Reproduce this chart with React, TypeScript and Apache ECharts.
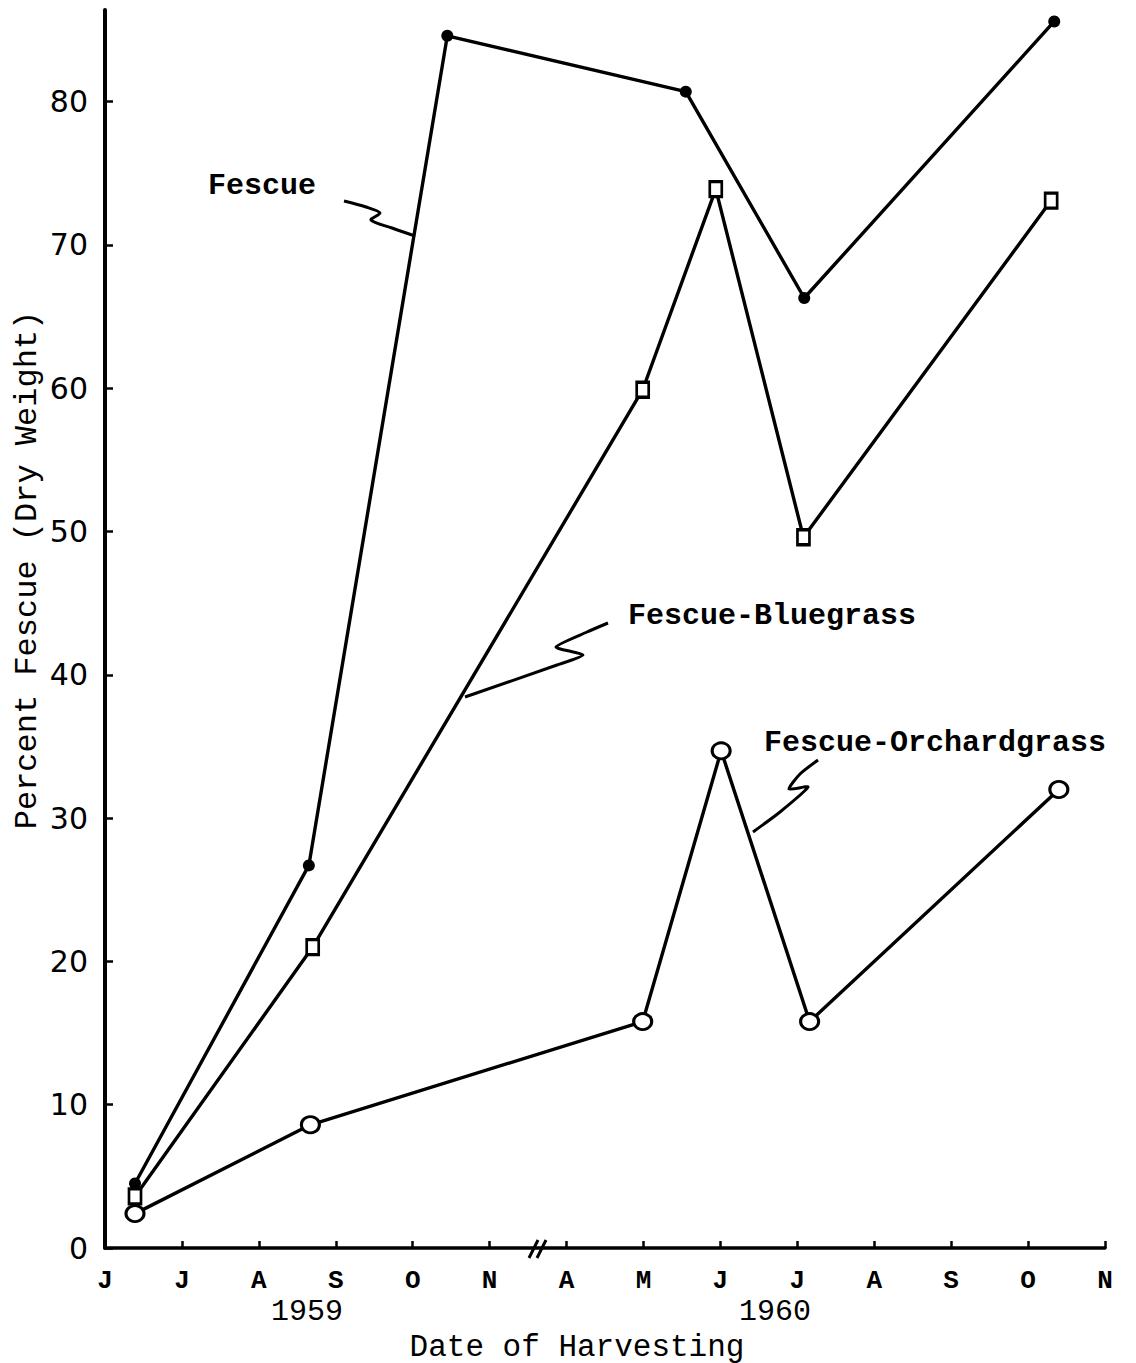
import React, { useEffect, useRef } from "react";
import * as echarts from "echarts";

const monthLabels = ["J", "J", "A", "S", "O", "N", "A", "M", "J", "J", "A", "S", "O", "N"];
const yTicks = [0, 10, 20, 30, 40, 50, 60, 70, 80];
const xTicks = [0, 1, 2, 3, 4, 5, 6, 7, 8, 9, 10, 11, 12, 13];

// x in month units from the June 1959 origin (with break between N and A)
const fescue: [number, number][] = [
  [0.39, 4.5], [2.65, 26.7], [4.45, 84.6], [7.55, 80.7], [9.09, 66.3], [12.34, 85.6],
];
const fescueBluegrass: [number, number][] = [
  [0.39, 3.6], [2.7, 21.0], [6.99, 59.9], [7.94, 73.9], [9.08, 49.6], [12.3, 73.1],
];
const fescueOrchardgrass: [number, number][] = [
  [0.39, 2.4], [2.67, 8.6], [6.99, 15.8], [8.01, 34.7], [9.16, 15.8], [12.4, 32.0],
];

const MONO = "'Liberation Mono', 'DejaVu Sans Mono', monospace";

export default function App() {
  const ref = useRef<HTMLDivElement>(null);
  useEffect(() => {
    if (!ref.current) return;
    const chart = echarts.init(ref.current, undefined, { renderer: "svg" });
    const lineStyle = { color: "#000", width: 3.4 };
    chart.setOption({
      animation: false,
      backgroundColor: "#fff",
      grid: { left: 105, right: 31, top: 10, bottom: 115 },
      xAxis: {
        type: "value",
        min: 0,
        max: 13,
        interval: 1,
        splitLine: { show: false },
        axisLine: { lineStyle: { color: "#000", width: 3.5 } },
        axisTick: { inside: true, length: 7, lineStyle: { color: "#000", width: 2.5 }, customValues: xTicks },
        axisLabel: {
          customValues: xTicks,
          margin: 20,
          color: "#000",
          fontFamily: MONO,
          fontWeight: "bold",
          fontSize: 26,
          formatter: (v: number) => monthLabels[Math.round(v)] ?? "",
        },
      },
      yAxis: {
        type: "value",
        min: 0,
        max: 86.4,
        interval: 10,
        splitLine: { show: false },
        axisLine: { lineStyle: { color: "#000", width: 4 } },
        axisTick: { inside: true, length: 8, lineStyle: { color: "#000", width: 2.5 }, customValues: yTicks },
        axisLabel: {
          customValues: yTicks,
          margin: 17,
          color: "#000",
          fontFamily: "'DejaVu Sans', sans-serif",
          fontSize: 30,
        },
      },
      series: [
        {
          name: "Fescue",
          type: "line",
          data: fescue,
          symbol: "circle",
          symbolSize: 12,
          lineStyle,
          itemStyle: { color: "#000" },
          z: 3,
        },
        {
          name: "Fescue-Bluegrass",
          type: "line",
          data: fescueBluegrass,
          symbol: "rect",
          symbolSize: [12, 15],
          lineStyle,
          itemStyle: { color: "#fff", borderColor: "#000", borderWidth: 3 },
          z: 4,
        },
        {
          name: "Fescue-Orchardgrass",
          type: "line",
          data: fescueOrchardgrass,
          symbol: "circle",
          symbolSize: [18, 16],
          lineStyle,
          itemStyle: { color: "#fff", borderColor: "#000", borderWidth: 3 },
          z: 5,
        },
      ],
      graphic: [
        // axis break
        { type: "line", shape: { x1: 529, y1: 1258, x2: 538, y2: 1240 }, style: { stroke: "#000", lineWidth: 3 }, z: 10 },
        { type: "line", shape: { x1: 537, y1: 1258, x2: 546, y2: 1240 }, style: { stroke: "#000", lineWidth: 3 }, z: 10 },
        // year labels
        { type: "text", x: 307, y: 1312, style: { text: "1959", font: `30px ${MONO}`, fill: "#000", align: "center", verticalAlign: "middle" } },
        { type: "text", x: 775, y: 1312, style: { text: "1960", font: `30px ${MONO}`, fill: "#000", align: "center", verticalAlign: "middle" } },
        { type: "text", x: 577, y: 1347, style: { text: "Date of Harvesting", font: `31px ${MONO}`, fill: "#000", align: "center", verticalAlign: "middle" } },
        {
          type: "text", x: 27, y: 570, rotation: Math.PI / 2,
          style: { text: "Percent Fescue (Dry Weight)", font: `32px ${MONO}`, fill: "#000", align: "center", verticalAlign: "middle" },
        },
        // series annotations
        { type: "text", x: 262, y: 186, style: { text: "Fescue", font: `bold 30px ${MONO}`, fill: "#000", align: "center", verticalAlign: "middle" } },
        { type: "text", x: 628, y: 616, style: { text: "Fescue-Bluegrass", font: `bold 30px ${MONO}`, fill: "#000", align: "left", verticalAlign: "middle" } },
        { type: "text", x: 764, y: 743, style: { text: "Fescue-Orchardgrass", font: `bold 30px ${MONO}`, fill: "#000", align: "left", verticalAlign: "middle" } },
        // squiggle leaders
        {
          type: "polyline",
          shape: { points: [[344, 201], [366, 207], [380, 213], [371, 220], [392, 228], [415, 236]], smooth: 0.3 },
          style: { stroke: "#000", lineWidth: 3, fill: "none" },
        },
        {
          type: "polyline",
          shape: { points: [[608, 623], [587, 632], [556, 647], [583, 655], [557, 665], [465, 697]], smooth: 0.2 },
          style: { stroke: "#000", lineWidth: 3, fill: "none" },
        },
        {
          type: "polyline",
          shape: { points: [[818, 760], [800, 774], [789, 789], [808, 787], [780, 812], [753, 832]], smooth: 0.2 },
          style: { stroke: "#000", lineWidth: 3, fill: "none" },
        },
      ],
    });
    return () => chart.dispose();
  }, []);
  return (
    <div
      ref={ref}
      style={{ position: "absolute", left: 0, top: 0, width: 1136, height: 1363, background: "#fff" }}
    />
  );
}
